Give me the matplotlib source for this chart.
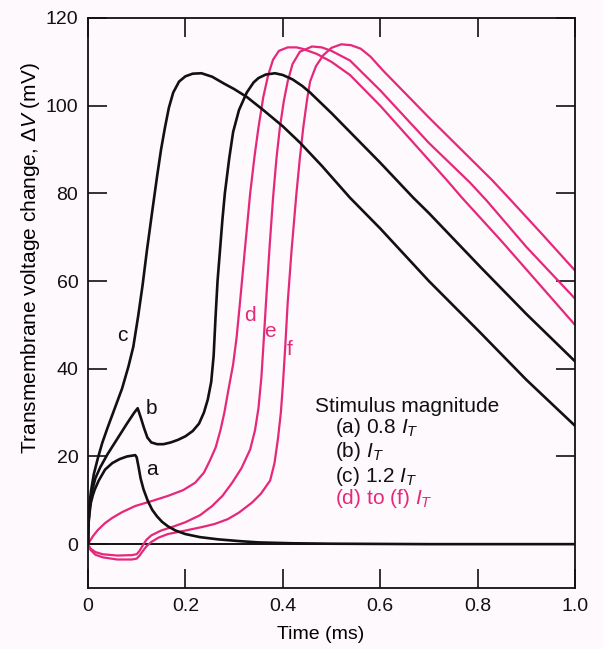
import matplotlib
matplotlib.use("Agg")
import matplotlib.pyplot as plt

plt.rcParams['font.family'] = ['Liberation Sans', 'DejaVu Sans']
plt.rcParams['mathtext.fontset'] = 'custom'
plt.rcParams['mathtext.rm'] = 'Liberation Sans'
plt.rcParams['mathtext.it'] = 'Liberation Sans:italic'

# ---- data (time in ms, voltage in mV) ----
a_t = [0, 0.001, 0.003, 0.006, 0.01, 0.014, 0.022, 0.035, 0.05, 0.065, 0.08, 0.097, 0.1, 0.104, 0.108, 0.114,
       0.123, 0.132, 0.142, 0.152, 0.165, 0.18, 0.2, 0.23, 0.267, 0.31, 0.35, 0.42, 0.5, 0.7, 1.0]
a_v = [0, 4.5, 7, 9.5, 11.2, 12.5, 14.5, 17, 18.5, 19.4, 20, 20.3, 19.8, 17.5, 15, 12.5,
       9.8, 7.8, 6.3, 5.1, 4, 3.1, 2.3, 1.6, 1.1, 0.7, 0.4, 0.2, 0.1, 0, 0]

b_t = [0, 0.001, 0.003, 0.008, 0.015, 0.025, 0.04, 0.06, 0.08, 0.095, 0.102, 0.108, 0.115, 0.122, 0.13, 0.142,
       0.155, 0.17, 0.185, 0.2, 0.215, 0.228, 0.238, 0.246, 0.253, 0.258, 0.262, 0.266, 0.271, 0.276, 0.281,
       0.29, 0.298, 0.31, 0.326, 0.34, 0.35, 0.365, 0.384, 0.4, 0.42, 0.44, 0.456, 0.5, 0.538, 0.6, 0.668,
       0.7, 0.805, 0.9, 1.0]
b_v = [0, 5, 8, 12, 15, 17.5, 20.5, 24, 27.5, 30, 31, 29, 26.5, 24.3, 23.2, 22.8,
       22.8, 23.2, 23.8, 24.6, 25.8, 27.5, 30, 33, 37, 43, 52, 60, 67, 74, 80,
       88, 94, 99, 103, 105.3, 106.3, 107.1, 107.4, 107, 106, 104.5, 103, 98.3, 94, 87, 79,
       75.5, 63.3, 52.5, 41.7]

c_t = [0, 0.001, 0.003, 0.006, 0.012, 0.02, 0.029, 0.04, 0.055, 0.07, 0.083, 0.093, 0.103, 0.112, 0.121,
       0.132, 0.142, 0.15, 0.158, 0.166, 0.175, 0.187, 0.2, 0.215, 0.233, 0.255, 0.28, 0.3, 0.326, 0.36,
       0.4, 0.435, 0.48, 0.538, 0.6, 0.7, 0.805, 0.9, 1.0]
c_v = [0, 5, 9, 12, 16, 19.5, 23, 26.5, 31, 35.5, 40.5, 45, 52, 59, 67,
       76, 84, 90, 95, 99.5, 103, 105.5, 106.7, 107.3, 107.4, 106.6, 105, 103.8, 102, 99,
       95.3, 91.6, 86.3, 79, 72, 60, 48.3, 37.5, 27]

d_t = [0, 0.01, 0.02, 0.035, 0.05, 0.07, 0.097, 0.13, 0.164, 0.195, 0.22, 0.238, 0.25, 0.262, 0.272, 0.28,
       0.288, 0.298, 0.305, 0.312, 0.322, 0.333, 0.342, 0.35, 0.36, 0.37, 0.38, 0.392, 0.41, 0.428, 0.44,
       0.47, 0.5, 0.538, 0.6, 0.737, 0.768, 0.85, 1.0]
d_v = [0, 1.8, 3.2, 4.8, 6, 7.3, 8.7, 9.8, 11, 12.3, 14, 16.3, 19, 22, 26, 30,
       35, 41, 47, 55, 67, 80, 88.5, 95, 102, 107, 110.5, 112.5, 113.3, 113.3, 113,
       111.8, 110, 107, 100, 83, 79, 69, 50]

e_t = [0, 0.005, 0.015, 0.03, 0.06, 0.09, 0.1, 0.106, 0.113, 0.12, 0.13, 0.15, 0.175, 0.2, 0.23, 0.255,
       0.276, 0.296, 0.315, 0.333, 0.343, 0.35, 0.356, 0.36, 0.366, 0.373, 0.38, 0.387, 0.394, 0.402, 0.41,
       0.42, 0.435, 0.46, 0.48, 0.5, 0.538, 0.6, 0.7, 0.784, 0.819, 0.9, 1.0]
e_v = [0, -1, -1.8, -2.3, -2.6, -2.5, -2.3, -1.5, -0.2, 1, 2, 3.1, 4, 5, 6.6, 8.7,
       11, 14, 17.3, 21.6, 26, 31, 38, 45, 56, 68, 79, 88, 95, 101, 105.5,
       109.5, 112.3, 113.5, 113.3, 112.5, 110.3, 103.5, 91.5, 82.5, 78.3, 67.8, 56]

f_t = [0, 0.005, 0.015, 0.03, 0.06, 0.09, 0.1, 0.106, 0.113, 0.12, 0.13, 0.145, 0.164, 0.2, 0.234, 0.26,
       0.287, 0.31, 0.337, 0.355, 0.374, 0.383, 0.39, 0.396, 0.4, 0.405, 0.41, 0.418, 0.428, 0.435, 0.442,
       0.45, 0.456, 0.468, 0.483, 0.5, 0.52, 0.54, 0.56, 0.58, 0.606, 0.7, 0.83, 0.867, 0.93, 1.0]
f_v = [0, -1.3, -2.4, -3, -3.5, -3.5, -3.3, -2.6, -1.5, -0.5, 0.5, 1.5, 2.3, 3.1, 3.9, 4.6,
       5.7, 7.2, 9.5, 11.5, 14.5, 18.5, 24, 30, 36, 45, 55, 67, 80, 88, 95,
       101.5, 105.5, 109, 111.5, 113.2, 114, 113.8, 113, 111.2, 108, 97.3, 83, 78.6, 71, 62.4]

x_ticks = [0, 0.2, 0.4, 0.6, 0.8, 1.0]
x_ticklabels = ['0', '0.2', '0.4', '0.6', '0.8', '1.0']
y_ticks = [0, 20, 40, 60, 80, 100, 120]

legend_title = 'Stimulus magnitude'
legend_lines = [r'(a) 0.8 $I_T$', r'(b) $I_T$', r'(c) 1.2 $I_T$']
legend_pink = r'(d) to (f) $I_T$'

BLACK = '#111111'
PINK = '#e5287a'
BG = '#fdf9fc'

fig = plt.figure(figsize=(6.03, 6.49), dpi=100, facecolor=BG)
ax = fig.add_axes([88/603, 61/649, 487/603, 570/649], facecolor=BG)

ax.axhline(0, color=BLACK, lw=1.4, zorder=1)
for t, v in [(a_t, a_v), (b_t, b_v), (c_t, c_v)]:
    ax.plot(t, v, color=BLACK, lw=1.9, solid_joinstyle='round', solid_capstyle='round', zorder=3)
for t, v in [(d_t, d_v), (e_t, e_v), (f_t, f_v)]:
    ax.plot(t, v, color=PINK, lw=1.6, solid_joinstyle='round', solid_capstyle='round', zorder=2)

ax.set_xlim(0, 1.0)
ax.set_ylim(-10, 120)
ax.set_xticks(x_ticks)
ax.set_xticklabels(x_ticklabels)
ax.set_yticks(y_ticks)
ax.tick_params(direction='in', length=14, width=1.2, colors=BLACK,
               labelsize=14, top=True, right=True, pad=7)
for s in ax.spines.values():
    s.set_linewidth(1.3)
    s.set_color(BLACK)

ax.set_xlabel('Time (ms)', fontsize=14)
ax.set_ylabel(r'Transmembrane voltage change, $\Delta V$ (mV)', fontsize=15)
ax.xaxis.set_label_coords(0.478, -0.066)
ax.yaxis.set_label_coords(-0.094, 0.579)

fs = 15
ax.text(0.07, 47.6, 'c', fontsize=fs, ha='center', va='center', color=BLACK)
ax.text(0.131, 31.0, 'b', fontsize=fs, ha='center', va='center', color=BLACK)
ax.text(0.131, 17.1, 'a', fontsize=fs, ha='center', va='center', color=BLACK)
ax.text(0.333, 52.2, 'd', fontsize=fs, ha='center', va='center', color=PINK)
ax.text(0.374, 48.6, 'e', fontsize=fs, ha='center', va='center', color=PINK)
ax.text(0.413, 44.4, 'f', fontsize=fs, ha='center', va='center', color=PINK)

ax.text(0.466, 31.4, legend_title, fontsize=fs, ha='left', va='center', color=BLACK)
for yv, s in zip([26.7, 21.2, 15.5], legend_lines):
    ax.text(0.507, yv, s, fontsize=fs, ha='left', va='center', color=BLACK)
ax.text(0.507, 10.3, legend_pink, fontsize=fs, ha='left', va='center', color=PINK)

fig.savefig('out.png', dpi=100, facecolor=BG)
